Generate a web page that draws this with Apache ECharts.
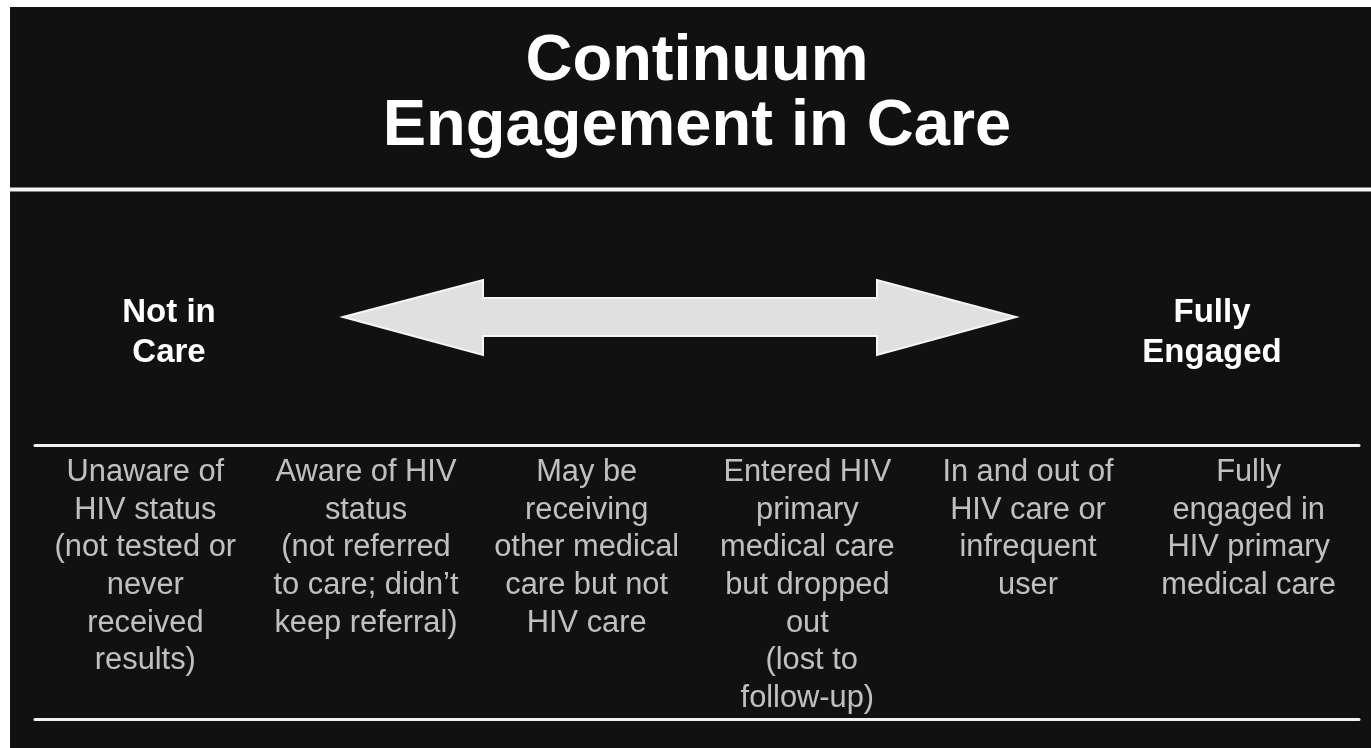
<!DOCTYPE html>
<html>
<head>
<meta charset="utf-8">
<script src="https://cdn.jsdelivr.net/npm/echarts@6/dist/echarts.min.js"></script>
<style>
html,body{margin:0;padding:0;background:#ffffff;}
#chart{width:1371px;height:748px;}
</style>
</head>
<body>
<div id="chart"></div>
<script>
// ---- data ----
const titleLines = ['Continuum', 'Engagement in Care'];
const leftEndLabel = 'Not in\nCare';
const rightEndLabel = 'Fully\nEngaged';
const stages = ['s1', 's2', 's3', 's4', 's5', 's6'];
const stageTexts = [
  'Unaware of\nHIV status\n(not tested or\nnever\nreceived\nresults)',
  'Aware of HIV\nstatus\n(not referred\nto care; didn\u2019t\nkeep referral)',
  'May be\nreceiving\nother medical\ncare but not\nHIV care',
  'Entered HIV\nprimary\nmedical care\nbut dropped\nout\n (lost to\nfollow-up)',
  'In and out of\nHIV care or\ninfrequent\nuser',
  'Fully\nengaged in\nHIV primary\nmedical care'
];
const stageRow = [1, 1, 1, 1, 1, 1];

// ---- chart ----
const FONT = '"Liberation Sans", Arial, Helvetica, sans-serif';
const chart = echarts.init(document.getElementById('chart'), null, {renderer: 'canvas'});

const lineStyle = {show: true, lineStyle: {color: '#f2f2f2', width: 3}};

chart.setOption({
  backgroundColor: '#ffffff',
  animation: false,
  grid: {left: 35, right: 12, top: 445, bottom: 29, containLabel: false},
  xAxis: [
    {type: 'category', data: stages, position: 'bottom', axisLine: lineStyle,
     axisTick: {show: false}, axisLabel: {show: false}, splitLine: {show: false}},
    {type: 'category', data: stages, position: 'top', axisLine: lineStyle,
     axisTick: {show: false}, axisLabel: {show: false}, splitLine: {show: false}}
  ],
  yAxis: {type: 'value', min: 0, max: 1, show: false},
  graphic: [
    {type: 'rect', z: -10, shape: {x: 10, y: 7, width: 1361, height: 741}, style: {fill: '#111111'}},
    {type: 'rect', z: 1, shape: {x: 10, y: 187.5, width: 1361, height: 4}, style: {fill: '#f4f4f4'}},
    {type: 'text', x: 697, y: 62, z: 2,
     style: {text: titleLines[0], fill: '#ffffff', fontSize: 65, fontWeight: 'bold', fontFamily: FONT, align: 'center', verticalAlign: 'middle'}},
    {type: 'text', x: 697, y: 127, z: 2,
     style: {text: titleLines[1], fill: '#ffffff', fontSize: 65, fontWeight: 'bold', fontFamily: FONT, align: 'center', verticalAlign: 'middle'}},
    {type: 'text', x: 169, y: 333, z: 2,
     style: {text: leftEndLabel, fill: '#ffffff', fontSize: 33, lineHeight: 40, fontWeight: 'bold', fontFamily: FONT, align: 'center', verticalAlign: 'middle'}},
    {type: 'text', x: 1212, y: 333, z: 2,
     style: {text: rightEndLabel, fill: '#ffffff', fontSize: 33, lineHeight: 40, fontWeight: 'bold', fontFamily: FONT, align: 'center', verticalAlign: 'middle'}},
    {type: 'polygon', z: 2,
     shape: {points: [[343, 317], [483, 280], [483, 298], [877, 298], [877, 280], [1016, 317], [877, 355], [877, 336], [483, 336], [483, 355]]},
     style: {fill: '#e0e0e0', stroke: '#f6f6f6', lineWidth: 2, lineJoin: 'miter'}}
  ],
  series: [{
    type: 'scatter',
    symbolSize: 0,
    silent: true,
    data: stageRow.map((v, i) => ({value: [i, v], label: {formatter: stageTexts[i]}})),
    label: {
      show: true,
      position: 'bottom',
      distance: 9,
      color: '#ececec',
      fontSize: 30.8,
      lineHeight: 37.6,
      fontFamily: FONT,
      align: 'center'
    }
  }]
});
</script>
</body>
</html>
